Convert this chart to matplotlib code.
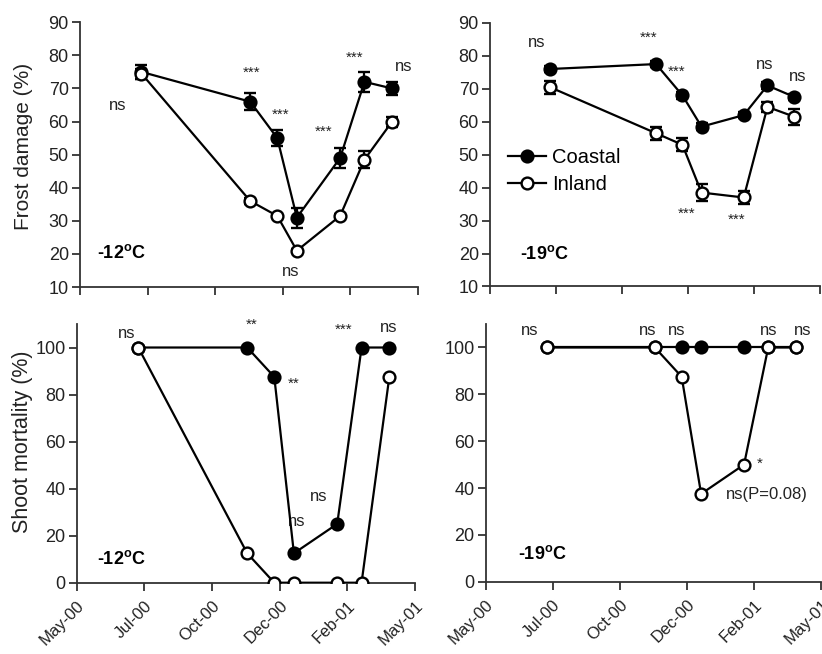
import matplotlib
matplotlib.use('Agg')
import matplotlib.pyplot as plt
from matplotlib.lines import Line2D

plt.rcParams['font.family'] = ['Liberation Sans', 'DejaVu Sans']
plt.rcParams['mathtext.fontset'] = 'custom'
plt.rcParams['mathtext.rm'] = 'Liberation Sans:bold'
plt.rcParams['mathtext.bf'] = 'Liberation Sans:bold'

# eje x: posiciones en unidades de marca (May-00 = 0 ... May-01 = 5)
tick_labels = ['May-00', 'Jul-00', 'Oct-00', 'Dec-00', 'Feb-01', 'May-01']
fechas = [0.91, 2.52, 2.92, 3.21, 3.85, 4.21, 4.62]

# Frost damage, -12 C
fd12_coastal = [75, 66, 55, 31, 49, 72, 70]
fd12_coastal_err = [2, 2.5, 2.5, 3, 3, 3, 2]
fd12_inland = [74.5, 36, 31.5, 21, 31.5, 48.5, 60]
fd12_inland_err = [1.5, 1, 0.5, 0.5, 0.5, 2.5, 1.5]

# Frost damage, -19 C
fd19_coastal = [76, 77.5, 68, 58.5, 62, 71, 67.5]
fd19_coastal_err = [1, 1, 1, 1, 1, 1, 1]
fd19_inland = [70.5, 56.5, 53, 38.5, 37, 64.5, 61.5]
fd19_inland_err = [2, 2, 2, 2.5, 2, 1.5, 2.5]

# Shoot mortality
sm12_coastal = [100, 100, 87.5, 12.5, 25, 100, 100]
sm12_inland = [100, 12.5, 0, 0, 0, 0, 87.5]
sm19_coastal = [100, 100, 100, 100, 100, 100, 100]
sm19_inland = [100, 100, 87.5, 37.5, 50, 100, 100]

# anotaciones (texto, x, y, tamano)
notas_fd12 = [('ns', 0.56, 65, 12), ('***', 2.54, 74.6, 11), ('***', 2.97, 62, 11),
              ('***', 3.61, 56.8, 11), ('***', 4.07, 79.4, 11), ('ns', 4.79, 76.7, 12),
              ('ns', 3.12, 14.8, 12)]
notas_fd19 = [('ns', 0.71, 83.9, 12), ('***', 2.40, 85.4, 11), ('***', 2.83, 75.3, 11),
              ('***', 2.98, 32.1, 11), ('***', 3.74, 30.1, 11), ('ns', 4.17, 77.3, 12),
              ('ns', 4.67, 73.7, 12)]
notas_sm12 = [('ns', 0.74, 105.9, 12), ('**', 2.59, 109.5, 11), ('**', 3.20, 84.7, 11),
              ('ns', 3.25, 25.9, 12), ('ns', 3.58, 36.8, 12), ('***', 3.95, 107.4, 11),
              ('ns', 4.61, 108.5, 12)]
notas_sm19 = [('ns', 0.66, 107.4, 12), ('ns', 2.41, 107.4, 12), ('ns', 2.84, 107.4, 12),
              ('ns', 4.21, 107.4, 12), ('ns', 4.73, 107.4, 12), ('*', 4.08, 50.5, 11),
              ('ns(P=0.08)', 4.19, 37.2, 12)]

fig = plt.figure(figsize=(8.22, 6.54), dpi=100)
ax1 = fig.add_axes([0.0973, 0.561, 0.411, 0.405])
ax2 = fig.add_axes([0.596, 0.562, 0.401, 0.403])
ax3 = fig.add_axes([0.0933, 0.109, 0.4116, 0.3956])
ax4 = fig.add_axes([0.591, 0.1105, 0.408, 0.394])

estilo = dict(color='black', lw=1.6, markersize=8.5, markeredgewidth=1.7,
              markeredgecolor='black', elinewidth=1.6, capsize=4, capthick=1.6)


def dibujar(ax, coastal, inland, c_err=None, i_err=None):
    ax.errorbar(fechas, coastal, yerr=c_err, fmt='-o', markerfacecolor='black',
                zorder=3, **estilo)
    ax.errorbar(fechas, inland, yerr=i_err, fmt='-o', markerfacecolor='white',
                zorder=4, **estilo)
    ax.set_xlim(0, 5)
    ax.set_xticks(range(6))
    for s in ['top', 'right']:
        ax.spines[s].set_visible(False)
    for s in ['left', 'bottom']:
        ax.spines[s].set_linewidth(1.3)
        ax.spines[s].set_color('#333333')
    ax.tick_params(direction='out', length=6, width=1.3, color='#333333',
                   labelsize=13, labelcolor='#222222', pad=2)


def notas(ax, lista):
    for txt, x, y, size in lista:
        ax.text(x, y, txt, fontsize=size, ha='center', va='center', color='#222222')


dibujar(ax1, fd12_coastal, fd12_inland, fd12_coastal_err, fd12_inland_err)
dibujar(ax2, fd19_coastal, fd19_inland, fd19_coastal_err, fd19_inland_err)
dibujar(ax3, sm12_coastal, sm12_inland)
dibujar(ax4, sm19_coastal, sm19_inland)

for ax in [ax1, ax2]:
    ax.set_ylim(10, 90)
    ax.set_yticks(range(10, 91, 10))
    ax.set_xticklabels([])
for ax in [ax3, ax4]:
    ax.set_ylim(0, 110)
    ax.set_yticks(range(0, 101, 20))
    ax.set_xticklabels(tick_labels, rotation=45, ha='right', rotation_mode='anchor',
                       fontsize=12)
    ax.tick_params(axis='x', pad=5)

ax1.set_ylabel('Frost damage (%)', fontsize=15, color='#222222')
ax1.yaxis.set_label_coords(-0.139, 0.532)
ax3.set_ylabel('Shoot mortality (%)', fontsize=15.5, color='#222222')
ax3.yaxis.set_label_coords(-0.129, 0.545)

notas(ax1, notas_fd12)
notas(ax2, notas_fd19)
notas(ax3, notas_sm12)
notas(ax4, notas_sm19)

ax1.text(0.25, 20.2, r'-12$^{\mathrm{o}}$C', fontsize=13, fontweight='bold', va='center')
ax2.text(0.45, 20.0, r'-19$^{\mathrm{o}}$C', fontsize=13, fontweight='bold', va='center')
ax3.text(0.30, 10.0, r'-12$^{\mathrm{o}}$C', fontsize=13, fontweight='bold', va='center')
ax4.text(0.48, 12.0, r'-19$^{\mathrm{o}}$C', fontsize=13, fontweight='bold', va='center')

handles = [Line2D([], [], color='black', lw=1.6, marker='o', markersize=8.5,
                  markeredgewidth=1.7, markerfacecolor='black', markeredgecolor='black'),
           Line2D([], [], color='black', lw=1.6, marker='o', markersize=8.5,
                  markeredgewidth=1.7, markerfacecolor='white', markeredgecolor='black')]
ax2.legend(handles, ['Coastal', 'Inland'], loc='upper left', bbox_to_anchor=(0.055, 0.525),
           frameon=False, fontsize=14.5, handlelength=1.9, handletextpad=0.3,
           labelspacing=0.4, borderaxespad=0, borderpad=0)

fig.savefig('out.png', dpi=100)
